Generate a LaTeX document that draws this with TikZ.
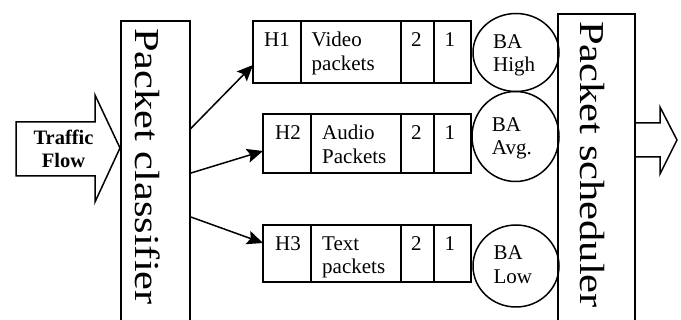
\documentclass[tikz,border=0pt]{standalone}
\usepackage{fontspec}
\setmainfont{Liberation Serif}
\usetikzlibrary{arrows.meta,shapes.geometric}
\begin{document}
\begin{tikzpicture}[x=1pt,y=-1pt,
  ln/.style={line width=1.5pt, line join=miter},
  cell/.style={draw, ln, inner sep=0pt, outer sep=0pt, anchor=north west},
  txt/.style={font=\fontsize{21}{23.5}\selectfont, inner sep=0pt, anchor=base west, align=left},
  big/.style={font=\fontsize{35}{40}\selectfont, inner sep=0pt, rotate=-90},
  ba/.style={draw, ln, ellipse, inner sep=0pt},
  arr/.style={ln, -{Stealth[length=16pt,width=14pt,inset=3pt]}}]
\useasboundingbox (0,0) rectangle (681,320);
% classifier and scheduler
\node[cell, minimum width=69pt, minimum height=305pt] (cls) at (121,21) {};
\node[big] (clst) at (148,166.5) {\scalebox{1.21}[1]{Packet classifier}};
\node[cell, minimum width=77pt, minimum height=310pt] (sch) at (558,14) {};
\node[big] (scht) at (592.5,164.5) {\scalebox{1.215}[1]{Packet scheduler}};
% traffic flow arrow
\draw[ln] (16,122) -- (95,122) -- (95,95) -- (120,148) -- (95,202) -- (95,176) -- (16,176) -- cycle;
\node[font=\bfseries\fontsize{20.5}{23}\selectfont, align=center, inner sep=0pt, anchor=base] (tf) at (63.5,168) {Traffic\\Flow};
% output arrow
\draw[ln] (sch.east |- 0,123) -- (660,123) -- (660,107) -- (677,140) -- (660,174) -- (660,157) -- (sch.east |- 0,157);
% row 1
\node[cell, minimum width=48pt, minimum height=62pt] (h1) at (253,21) {};
\node[cell, minimum width=100pt, minimum height=62pt] (v1) at (301,21) {};
\node[cell, minimum width=33pt, minimum height=62pt] (q12) at (401,21) {};
\node[cell, minimum width=37pt, minimum height=62pt] (q11) at (434,21) {};
\node[txt] (th1) at (264,47) {H1};
\node[txt] (tv1) at (311.5,70.5) {Video\\packets};
\node[txt] (t12) at (411,47) {2};
\node[txt] (t11) at (444.5,47) {1};
% row 2
\node[cell, minimum width=48pt, minimum height=59pt] (h2) at (263,114) {};
\node[cell, minimum width=90pt, minimum height=59pt] (v2) at (311,114) {};
\node[cell, minimum width=33pt, minimum height=59pt] (q22) at (401,114) {};
\node[cell, minimum width=37pt, minimum height=59pt] (q21) at (434,114) {};
\node[txt] (th2) at (275,140) {H2};
\node[txt] (tv2) at (322,163.5) {Audio\\Packets};
\node[txt] (t22) at (411,140) {2};
\node[txt] (t21) at (444.5,140) {1};
% row 3
\node[cell, minimum width=48pt, minimum height=57pt] (h3) at (263,225) {};
\node[cell, minimum width=90pt, minimum height=57pt] (v3) at (311,225) {};
\node[cell, minimum width=33pt, minimum height=57pt] (q32) at (401,225) {};
\node[cell, minimum width=37pt, minimum height=57pt] (q31) at (434,225) {};
\node[txt] (th3) at (275,250.5) {H3};
\node[txt] (tv3) at (322,274) {Text\\packets};
\node[txt] (t32) at (411,250.5) {2};
\node[txt] (t31) at (444.5,250.5) {1};
% BA circles
\node[ba, minimum width=86pt, minimum height=78pt] (ba1) at (516,52.5) {};
\node[txt] (tba1) at (493,72) {BA\\High};
\node[ba, minimum width=87pt, minimum height=90pt] (ba2) at (515.5,136.5) {};
\node[txt] (tba2) at (491.7,155) {BA\\Avg.};
\node[ba, minimum width=86pt, minimum height=82pt] (ba3) at (516,266) {};
\node[txt] (tba3) at (493.3,283.3) {BA\\Low};
% connectors
\coordinate (s1) at (190,129.3);
\coordinate (s2) at (190,173.3);
\coordinate (s3) at (190,216.7);
\coordinate (e1) at (253,65);
\coordinate (e2) at (263,151);
\coordinate (e3) at (263,243);
\draw[arr] (cls.east |- s1) -- (h1.west |- e1);
\draw[arr] (cls.east |- s2) -- (h2.west |- e2);
\draw[arr] (cls.east |- s3) -- (h3.west |- e3);
\end{tikzpicture}
\end{document}
